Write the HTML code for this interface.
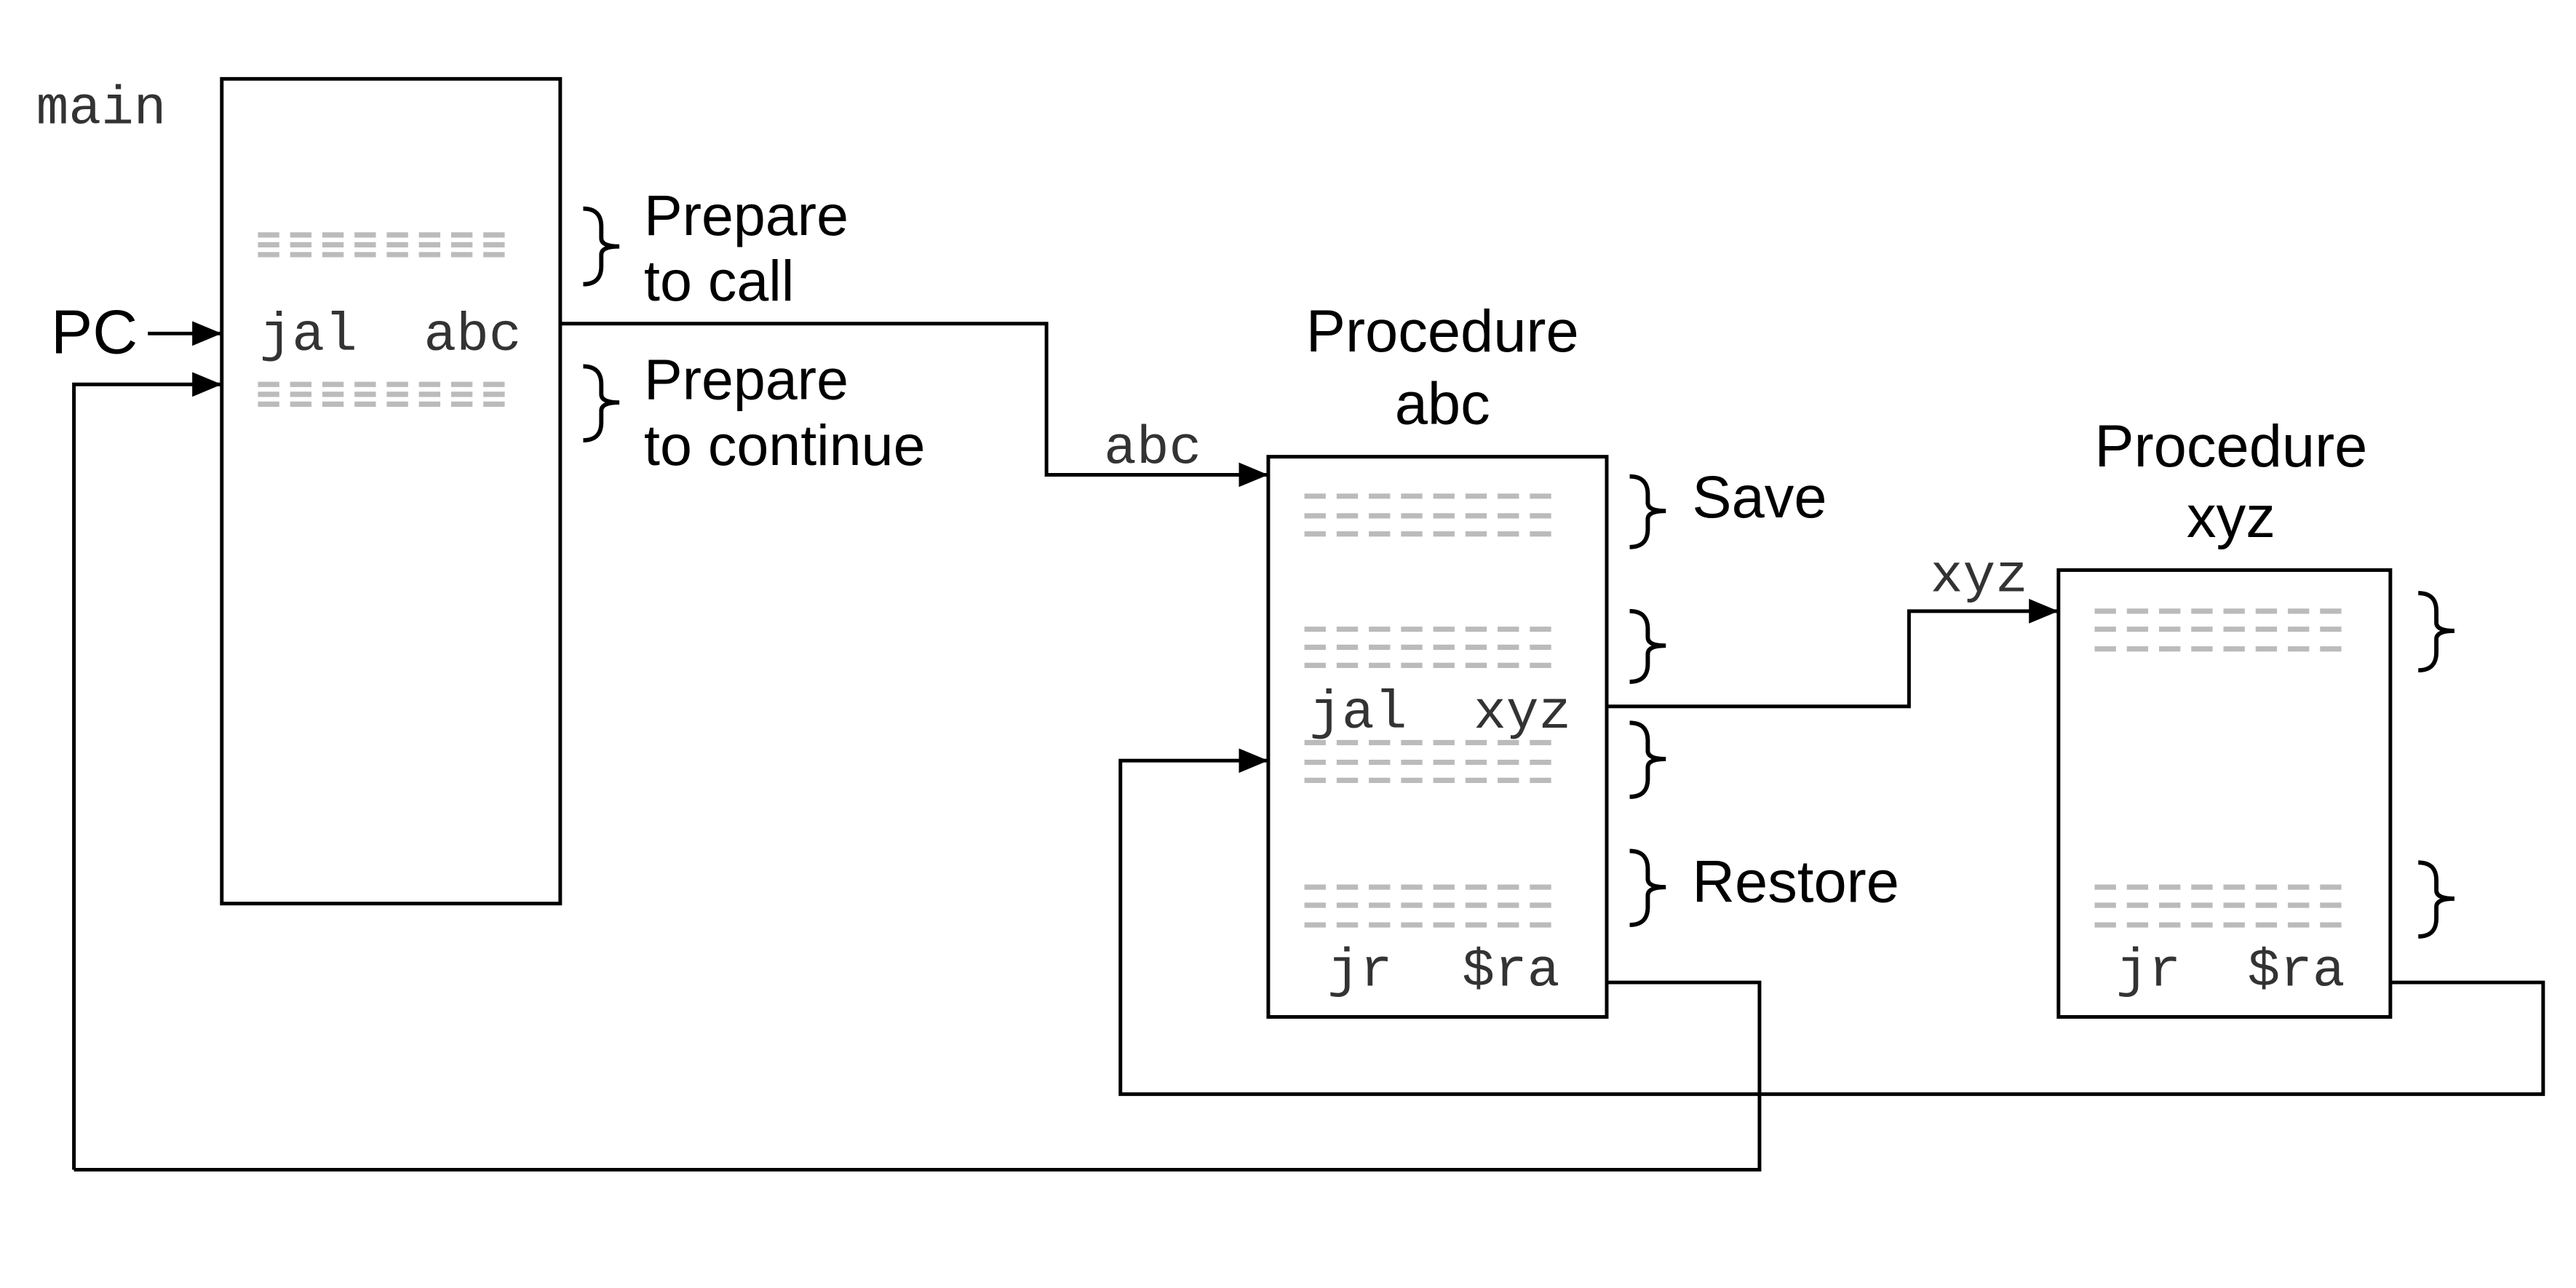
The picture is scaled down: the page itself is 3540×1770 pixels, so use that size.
<!DOCTYPE html>
<html><head><meta charset="utf-8"><style>
html,body{margin:0;padding:0;background:#fff;width:3540px;height:1770px;overflow:hidden}
svg{display:block}
.m{font-family:"Liberation Mono",monospace;font-size:33px;fill:#333}
.s{font-family:"Liberation Sans",sans-serif;font-size:35px;fill:#000}
.t{font-family:"Liberation Sans",sans-serif;font-size:36px;fill:#000}
.d{stroke:#bbb;stroke-width:3.2;stroke-dasharray:13 6.6}
.b{fill:none;stroke:#000;stroke-width:2.6}
.l{fill:none;stroke:#000;stroke-width:2.2}
</style></head><body>
<svg width="3540" height="1770" viewBox="0 0 1568 784" preserveAspectRatio="none">
<defs>
<marker id="A" markerWidth="18" markerHeight="16" refX="17" refY="8" orient="auto" markerUnits="userSpaceOnUse"><path d="M0,0.5 L18,8 L0,15.5 z" fill="#000"/></marker></defs>

<rect x="135" y="48" width="206" height="502" class="l"/>
<rect x="772" y="278" width="206" height="341" class="l"/>
<rect x="1253" y="347" width="202" height="272" class="l"/>

<g class="d">
<line x1="157" y1="143" x2="310" y2="143"/><line x1="157" y1="149" x2="310" y2="149"/><line x1="157" y1="155" x2="310" y2="155"/>
<line x1="157" y1="234" x2="310" y2="234"/><line x1="157" y1="240" x2="310" y2="240"/><line x1="157" y1="246" x2="310" y2="246"/>
<line x1="794" y1="302" x2="947" y2="302"/><line x1="794" y1="314" x2="947" y2="314"/><line x1="794" y1="325" x2="947" y2="325"/>
<line x1="794" y1="383" x2="947" y2="383"/><line x1="794" y1="394" x2="947" y2="394"/><line x1="794" y1="405" x2="947" y2="405"/>
<line x1="794" y1="452" x2="947" y2="452"/><line x1="794" y1="464" x2="947" y2="464"/><line x1="794" y1="475" x2="947" y2="475"/>
<line x1="794" y1="540" x2="947" y2="540"/><line x1="794" y1="551" x2="947" y2="551"/><line x1="794" y1="563" x2="947" y2="563"/>
<line x1="1275" y1="372" x2="1428" y2="372"/><line x1="1275" y1="383" x2="1428" y2="383"/><line x1="1275" y1="395" x2="1428" y2="395"/>
<line x1="1275" y1="540" x2="1428" y2="540"/><line x1="1275" y1="551" x2="1428" y2="551"/><line x1="1275" y1="563" x2="1428" y2="563"/>
</g>

<g class="b">
<path d="M355 127 Q366 127 366 138 L366 145 Q366 150 377 150 Q366 150 366 155 L366 162 Q366 173 355 173"/>
<path d="M355 223 Q366 223 366 234 L366 240 Q366 245 377 245 Q366 245 366 250 L366 257 Q366 268 355 268"/>
<path d="M992 290 Q1003 290 1003 301 L1003 306 Q1003 311 1014 311 Q1003 311 1003 316 L1003 322 Q1003 333 992 333"/>
<path d="M992 372 Q1003 372 1003 383 L1003 388 Q1003 393 1014 393 Q1003 393 1003 398 L1003 404 Q1003 415 992 415"/>
<path d="M992 440 Q1003 440 1003 451 L1003 457 Q1003 462 1014 462 Q1003 462 1003 467 L1003 474 Q1003 485 992 485"/>
<path d="M992 518 Q1003 518 1003 529 L1003 535 Q1003 540 1014 540 Q1003 540 1003 545 L1003 552 Q1003 563 992 563"/>
<path d="M1472 361 Q1483 361 1483 372 L1483 379 Q1483 384 1494 384 Q1483 384 1483 389 L1483 397 Q1483 408 1472 408"/>
<path d="M1472 525 Q1483 525 1483 536 L1483 542 Q1483 547 1494 547 Q1483 547 1483 552 L1483 559 Q1483 570 1472 570"/>
</g>

<g class="l">
<path d="M90 203 H134" marker-end="url(#A)"/>
<path d="M45 712 V234 H134" marker-end="url(#A)"/>
<path d="M979 598 H1071 V712 H45"/>
<path d="M341 197 H637 V289 H771" marker-end="url(#A)"/>
<path d="M978 430 H1162 V372 H1252" marker-end="url(#A)"/>
<path d="M1455 598 H1548 V666 H682 V463 H771" marker-end="url(#A)"/>
</g>

<text class="m" x="22" y="75">main</text>
<text class="s" x="31" y="215" style="font-size:38px">PC</text>
<text class="m" x="158" y="213">jal</text><text class="m" x="258" y="213">abc</text>
<text class="s" x="392" y="143">Prepare</text><text class="s" x="392" y="183">to call</text>
<text class="s" x="392" y="243">Prepare</text><text class="s" x="392" y="283">to continue</text>
<text class="m" x="672" y="282">abc</text>
<text class="t" x="878" y="214" text-anchor="middle">Procedure</text>
<text class="t" x="878" y="258" text-anchor="middle">abc</text>
<text class="m" x="797" y="443">jal</text><text class="m" x="897" y="443">xyz</text>
<text class="m" x="808" y="600">jr</text><text class="m" x="890" y="600">$ra</text>
<text class="t" x="1030" y="315">Save</text>
<text class="t" x="1030" y="549">Restore</text>
<text class="m" x="1175" y="360">xyz</text>
<text class="t" x="1358" y="284" text-anchor="middle">Procedure</text>
<text class="t" x="1358" y="327" text-anchor="middle">xyz</text>
<text class="m" x="1288" y="600">jr</text><text class="m" x="1368" y="600">$ra</text>
</svg>
</body></html>
